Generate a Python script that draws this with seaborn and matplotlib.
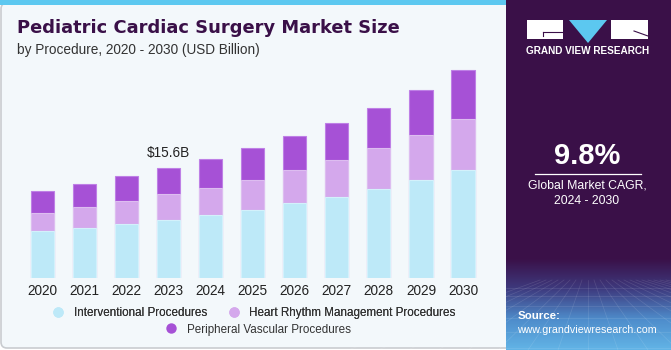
"""Pediatric cardiac surgery market size by procedure, stacked bars (2020-2030)."""
import numpy as np
import pandas as pd
import matplotlib.pyplot as plt
import seaborn as sns
from matplotlib.patches import FancyBboxPatch, Rectangle, Polygon
from matplotlib.lines import Line2D
from matplotlib.colors import LinearSegmentedColormap

years = [str(y) for y in range(2020, 2031)]
interventional = [6.67, 7.19, 7.75, 8.32, 8.93, 9.74, 10.64, 11.53, 12.62, 13.94, 15.32]
heart_rhythm = [2.65, 2.98, 3.26, 3.59, 3.92, 4.25, 4.77, 5.29, 5.86, 6.43, 7.23]
peripheral = [3.07, 3.21, 3.45, 3.69, 4.02, 4.44, 4.82, 5.20, 5.72, 6.33, 7.04]
series_names = ["Interventional Procedures", "Heart Rhythm Management Procedures",
                "Peripheral Vascular Procedures"]

BG = "#F3F8FB"
PURPLE = "#3A1048"
C_INT, C_HRM, C_PER = "#BDE9F8", "#D4A8EC", "#A651D6"

plt.rcParams["font.family"] = ["Liberation Sans", "DejaVu Sans"]

df = pd.DataFrame({"year": years, "int": interventional, "hrm": heart_rhythm, "per": peripheral})
df["lvl2"] = df["int"] + df["hrm"]
df["total"] = df["lvl2"] + df["per"]

W, H = 671, 350
fig = plt.figure(figsize=(W / 100, H / 100), dpi=100)
fig.patch.set_facecolor("white")

# ---- background frame in pixel coordinates ----
bg = fig.add_axes([0, 0, 1, 1], zorder=0)
bg.set_xlim(0, W); bg.set_ylim(H, 0); bg.axis("off")
bg.add_patch(FancyBboxPatch((1, 3), 520, 345, boxstyle="round,pad=0,rounding_size=6",
                            facecolor=BG, edgecolor="#C9CCD0", linewidth=1.2))
bg.add_patch(Rectangle((0, 0), 506, 5, facecolor="#5CC8F0", edgecolor="none"))
bg.add_patch(Rectangle((506, 0), W - 506, H, facecolor=PURPLE, edgecolor="none"))
grad = LinearSegmentedColormap.from_list("g", [PURPLE, "#3E3A7E", "#4E8CCB", "#62B4E6"])
bg.imshow(np.linspace(0, 1, 100).reshape(-1, 1), cmap=grad, aspect="auto",
          extent=(506, W, 350, 258), zorder=1)
# faint perspective grid in the panel footer
for k in range(-8, 14):
    bg.plot([588 + k * 6, 588 + k * 30], [280, 350], color="white", alpha=0.12, lw=0.5, zorder=2)
for yy in [288, 296, 306, 318, 332, 348]:
    bg.plot([506, W], [yy, yy], color="white", alpha=0.12, lw=0.5, zorder=2)

# logo
bg.add_patch(Rectangle((527, 20), 36, 19, facecolor="white", edgecolor="none", zorder=3))
bg.add_patch(Polygon([(569, 20), (607, 20), (588, 43)], facecolor="#5CC8F0", edgecolor="none", zorder=3))
bg.add_patch(Rectangle((611, 20), 37, 19, facecolor="white", edgecolor="none", zorder=3))
bg.plot([543, 563], [32, 32], color=PURPLE, lw=0.8, zorder=4)
bg.plot([543, 543], [32, 36], color=PURPLE, lw=0.8, zorder=4)
bg.plot([634, 648], [31, 36], color=PURPLE, lw=0.8, zorder=4)
bg.text(587.5, 51, "GRAND VIEW RESEARCH", color="white", fontsize=7.2, fontweight="bold",
        ha="center", va="center", zorder=4)

# panel texts
bg.text(587, 156, "9.8%", color="white", fontsize=21, fontweight="bold", ha="center", va="center", zorder=4)
bg.plot([535, 641], [173.5, 173.5], color="white", lw=0.9, zorder=4)
bg.text(587, 186, "Global Market CAGR,", color="white", fontsize=8.8, ha="center", va="center", zorder=4)
bg.text(587, 201, "2024 - 2030", color="white", fontsize=8.8, ha="center", va="center", zorder=4)
bg.text(518, 316, "Source:", color="white", fontsize=8.2, fontweight="bold", ha="left", va="center", zorder=4)
bg.text(517, 330, "www.grandviewresearch.com", color="white", fontsize=7.7, ha="left", va="center", zorder=4)

# titles
bg.text(17, 28, "Pediatric Cardiac Surgery Market Size", color=PURPLE, fontsize=12.9,
        fontweight="heavy", family="DejaVu Sans", ha="left", va="center", zorder=4)
bg.text(17, 50, "by Procedure, 2020 - 2030 (USD Billion)", color="#333333", fontsize=9.8,
        ha="left", va="center", zorder=4)

# ---- chart ----
ymax = 30.96
ax = fig.add_axes([21.7 / W, (H - 278.3) / H, (484 - 21.7) / W, (278.3 - 60) / H], zorder=2)
ax.set_facecolor("none")
for col, c, ec in [("total", C_PER, "#BE80E6"), ("lvl2", C_HRM, "#DDBDF0"), ("int", C_INT, "#D3F1FB")]:
    sns.barplot(data=df, x="year", y=col, color=c, width=0.55, edgecolor=ec, linewidth=0.8,
                saturation=1, ax=ax)
ax.set_ylim(0, ymax)
ax.set_xlim(-0.5, len(years) - 0.5)
ax.set_xlabel(""); ax.set_ylabel("")
ax.set_yticks([])
sns.despine(ax=ax, left=True, bottom=True)
ax.tick_params(axis="x", length=0, pad=4, labelsize=9.8, labelcolor="#222222")
ax.text(3, df["total"][3] + 1.2, "$15.6B", ha="center", va="bottom", fontsize=9.8, color="#222222")

# ---- legend ----
def handle(c):
    return Line2D([], [], marker="o", linestyle="none", markersize=7.5, markerfacecolor=c,
                  markeredgecolor="none")

leg1 = fig.legend([handle(C_INT), handle(C_HRM)], series_names[:2], loc="center",
                  bbox_to_anchor=(251 / W, 1 - 313 / H), ncol=2, frameon=False, fontsize=8.4,
                  handletextpad=0.35, columnspacing=1.3, labelcolor="#333333")
fig.legend([handle(C_PER)], series_names[2:], loc="center", bbox_to_anchor=(255 / W, 1 - 329.5 / H),
           frameon=False, fontsize=8.4, handletextpad=0.35, labelcolor="#333333")
fig.add_artist(leg1)

fig.savefig("out.png", dpi=100, facecolor=fig.get_facecolor())
